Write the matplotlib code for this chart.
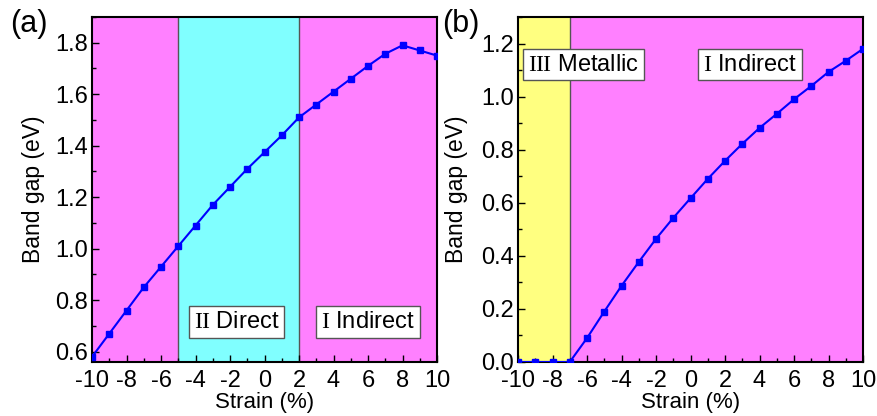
import matplotlib
matplotlib.use("Agg")
import matplotlib.pyplot as plt
from matplotlib.ticker import MultipleLocator

plt.rcParams['font.family'] = ['Liberation Sans', 'DejaVu Sans']
plt.rcParams['mathtext.fontset'] = 'custom'
plt.rcParams['mathtext.rm'] = 'Liberation Serif'
plt.rcParams['axes.unicode_minus'] = False

strain = list(range(-10, 11))
gap_a = [0.58, 0.67, 0.76, 0.85, 0.93, 1.01, 1.09, 1.17, 1.24, 1.31, 1.375,
         1.44, 1.51, 1.56, 1.61, 1.66, 1.71, 1.757, 1.79, 1.77, 1.75]
gap_b = [0.0, 0.0, 0.0, 0.0, 0.09, 0.19, 0.287, 0.377, 0.464, 0.543, 0.617,
         0.69, 0.758, 0.822, 0.882, 0.935, 0.99, 1.04, 1.093, 1.135, 1.18]

regions_a = [(-10, -5, '#FF80FF'), (-5, 2, '#80FFFF'), (2, 10, '#FF80FF')]
regions_b = [(-10, -7, '#FFFF80'), (-7, 10, '#FF80FF')]
labels_a = [(-1.6, 0.716, r'$\mathrm{II}$ Direct'), (6.0, 0.716, r'$\mathrm{I}$ Indirect')]
labels_b = [(-6.2, 1.12, r'$\mathrm{III}$ Metallic'), (3.45, 1.12, r'$\mathrm{I}$ Indirect')]

W, H = 877, 416
fig = plt.figure(figsize=(W / 100, H / 100), dpi=100)
ax_a = fig.add_axes([92 / W, (H - 362) / H, 345 / W, 345 / H])
ax_b = fig.add_axes([518 / W, (H - 362) / H, 345 / W, 345 / H])

def setup(ax, regions, gaps, labels, ylim, ymaj, panel, lblx, panx):
    for x0, x1, c in regions:
        ax.axvspan(x0, x1, color=c, lw=0, zorder=0)
    for x0, x1, c in regions[1:]:
        ax.axvline(x0, color='#555555', lw=1, zorder=1)
    ax.plot(strain, gaps, '-s', color='#0000FF', lw=1.5, ms=4.5, zorder=3)
    ax.set_xlim(-10, 10)
    ax.set_ylim(*ylim)
    ax.xaxis.set_major_locator(MultipleLocator(2))
    ax.xaxis.set_minor_locator(MultipleLocator(1))
    ax.yaxis.set_major_locator(MultipleLocator(ymaj))
    ax.yaxis.set_minor_locator(MultipleLocator(ymaj / 2))
    ax.tick_params(which='both', direction='in', labelsize=17)
    ax.tick_params(axis='x', pad=6)
    ax.tick_params(axis='y', pad=3)
    ax.tick_params(which='major', length=5, width=1)
    ax.tick_params(which='minor', length=3, width=1)
    for s in ax.spines.values():
        s.set_linewidth(1.5)
    ax.set_xlabel('Strain (%)', fontsize=16, labelpad=0)
    ax.set_ylabel('Band gap (eV)', fontsize=16.5)
    ax.yaxis.set_label_coords(lblx, 0.5)
    for x, y, t in labels:
        ax.text(x, y, t, fontsize=17, ha='center', va='center', zorder=4,
                bbox=dict(boxstyle='square,pad=0.2', fc='white', ec='#555555', lw=1))
    ax.text(panx, 0.98, panel, transform=ax.transAxes, fontsize=22,
            ha='left', va='center')

setup(ax_a, regions_a, gap_a, labels_a, (0.56, 1.9), 0.2, '(a)', -0.135, -0.238)
setup(ax_b, regions_b, gap_b, labels_b, (0.0, 1.3), 0.2, '(b)', -0.145, -0.22)

fig.savefig('out.png', dpi=100)
